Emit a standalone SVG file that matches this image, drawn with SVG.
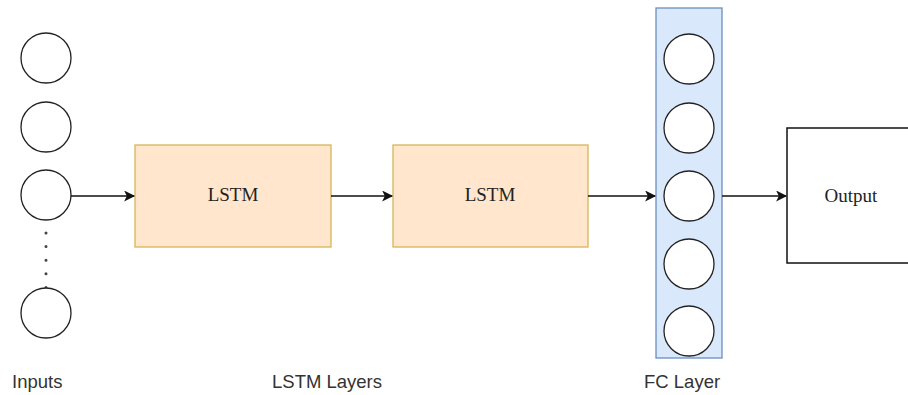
<svg xmlns="http://www.w3.org/2000/svg" width="908" height="395" viewBox="0 0 908 395">
  <style>
    .neuron { fill: #ffffff; stroke: #222222; stroke-width: 1.3; }
    .lstm { fill: #ffe6cc; stroke: #d6b656; stroke-width: 1.3; }
    .fc { fill: #dae8fc; stroke: #6c8ebf; stroke-width: 1.3; }
    .out { fill: #ffffff; stroke: #111111; stroke-width: 1.5; }
    .serif { font-family: "Liberation Serif", "Times New Roman", serif; font-size: 19px; fill: #222222; text-anchor: middle; }
    .label { font-family: "Liberation Sans", Arial, sans-serif; font-size: 18.5px; fill: #333333; }
    .edge { stroke: #111111; stroke-width: 1.6; fill: none; }
    .dots { stroke: #444444; stroke-width: 3; stroke-linecap: round; stroke-dasharray: 0 13.6; fill: none; }
  </style>
  <defs>
    <marker id="arrow" viewBox="0 0 10 10" refX="9" refY="5" markerWidth="12" markerHeight="11" markerUnits="userSpaceOnUse" orient="auto">
      <path d="M0,0 L10,5 L0,10 L2.5,5 Z" fill="#111111"/>
    </marker>
  </defs>

  <rect width="908" height="395" fill="#ffffff"/>

  <!-- input neurons -->
  <g id="inputs">
    <circle class="neuron" cx="46" cy="58" r="25"/>
    <circle class="neuron" cx="46" cy="127" r="25"/>
    <circle class="neuron" cx="46" cy="195" r="25"/>
    <path class="dots" d="M46,233 L46,288"/>
    <circle class="neuron" cx="46" cy="313" r="25"/>
  </g>

  <!-- first LSTM block -->
  <g id="lstm1">
    <rect class="lstm" x="135" y="145" width="196" height="102"/>
    <text class="serif" x="233" y="201">LSTM</text>
  </g>

  <!-- second LSTM block -->
  <g id="lstm2">
    <rect class="lstm" x="393" y="145" width="195" height="102"/>
    <text class="serif" x="490" y="201">LSTM</text>
  </g>

  <!-- fully connected layer -->
  <g id="fc-layer">
    <rect class="fc" x="656" y="8" width="66" height="350"/>
    <circle class="neuron" cx="689" cy="59" r="25"/>
    <circle class="neuron" cx="689" cy="128" r="25"/>
    <circle class="neuron" cx="689" cy="196" r="25"/>
    <circle class="neuron" cx="689" cy="264" r="25"/>
    <circle class="neuron" cx="689" cy="331" r="25"/>
  </g>

  <!-- output block -->
  <g id="output">
    <rect class="out" x="787" y="128" width="130" height="135"/>
    <text class="serif" x="851" y="202">Output</text>
  </g>

  <!-- connectors -->
  <g id="connectors">
    <path class="edge" d="M71,196 L134,196" marker-end="url(#arrow)"/>
    <path class="edge" d="M331,196 L392,196" marker-end="url(#arrow)"/>
    <path class="edge" d="M588,196 L655,196" marker-end="url(#arrow)"/>
    <path class="edge" d="M722,196 L786,196" marker-end="url(#arrow)"/>
  </g>

  <!-- captions -->
  <g id="captions">
    <text class="label" x="12" y="388">Inputs</text>
    <text class="label" x="272" y="388">LSTM Layers</text>
    <text class="label" x="644" y="388">FC Layer</text>
  </g>
</svg>
